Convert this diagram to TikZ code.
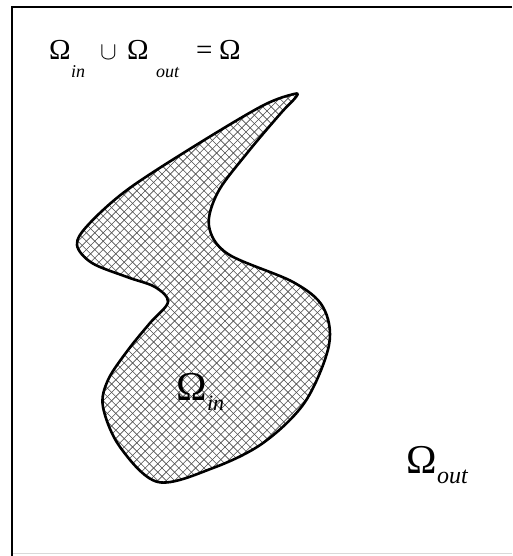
\documentclass[tikz,border=0pt]{standalone}
\usepackage{fontspec}
\setmainfont{Liberation Serif}
\begin{document}
\begin{tikzpicture}[x=1pt,y=-1pt,
  lbl/.style={inner sep=0pt,outer sep=0pt,anchor=base west},
  big/.style={lbl,font=\fontsize{41}{41}\selectfont},
  mid/.style={lbl,font=\fontsize{29}{29}\selectfont},
  subsm/.style={lbl,font=\fontsize{18}{18}\selectfont\itshape},
  subbig/.style={lbl,font=\fontsize{22}{22}\selectfont\itshape},
  outline/.style={line width=2.6pt,black,line join=round},
  hatch/.style={line width=0.6pt,black!70},
  frame/.style={line width=1.8pt,black}]
\useasboundingbox (0,0) rectangle (512,556);
% frame
\draw[black!15,line width=0.8pt] (12,553) -- (512,553);
\draw[frame] (512,7) -- (12,7) -- (12,556);
% region
\def\regionpath{plot[smooth cycle,tension=0.55] coordinates{
 (294,94) (262,106) (193,147) (127,190) (88,225) (77,245) (92,263) (127,277) (155,287) (168,302)
 (150,323) (128,350) (108,380) (103,407) (120,447) (158,482) (213,468) (263,443) (305,402)
 (329,345) (323,307) (293,282) (228,254) (209,226) (218,192) (248,152) (281,113) (296,97)}}
\begin{scope}
  \clip \regionpath;
  \foreach \k in {-600,-591.6,...,600} {
    \draw[hatch] (\k,0) -- ++(600,600);
    \draw[hatch] (\k+600,0) -- ++(-600,600);
  }
\end{scope}
\draw[outline] \regionpath;
% top equation
\node[mid] (om1) at (49,60) {Ω};
\node[subsm] (s1) at (71,78) {in};
\node[lbl,font=\fontsize{24}{24}\selectfont] (cup) at (100,60) {$\cup$};
\node[mid] (om2) at (127,60) {Ω};
\node[subsm] (s2) at (156,78) {out};
\node[mid] (eq) at (196,60) {=};
\node[mid] (om3) at (219,60) {Ω};
% inner label
\node[big] (omin) at (176,400) {Ω};
\node[subbig] (sin) at (207,410) {in};
% outer label
\node[big] (omout) at (406,473) {Ω};
\node[lbl,font=\fontsize{24}{24}\selectfont\itshape] (sout) at (437,483) {out};
\end{tikzpicture}
\end{document}
